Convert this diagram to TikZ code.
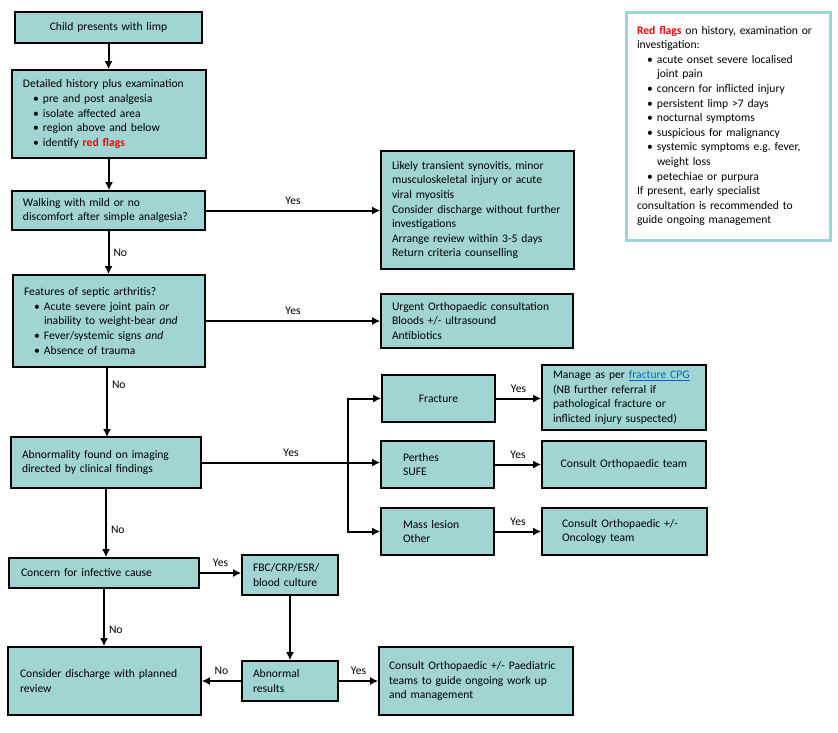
\documentclass[tikz,border=0pt]{standalone}
\usepackage{fontspec}
\setmainfont{Carlito}
\usetikzlibrary{arrows.meta}

\definecolor{boxfill}{HTML}{A0D5D4}
\definecolor{flagline}{HTML}{9DD4D4}
\definecolor{linkblue}{HTML}{0563C1}

\newcommand{\itm}[1]{\hspace*{10pt}\makebox[10pt][l]{\textbullet}#1}
\newcommand{\cnt}[1]{\hspace*{20pt}#1}
\newcommand{\redflag}[1]{\textbf{\textcolor{red}{#1}}}

\tikzset{
	proc/.style 2 args={draw=black, line width=1.6pt, fill=boxfill, align=left,
		text width=#1, minimum height=#2, inner xsep=11pt, inner ysep=2pt},
	arr/.style={line width=2pt, -{Latex[length=8pt, width=8pt]}},
	yes/.style={midway, above, inner sep=5pt},
	no/.style={right, inner sep=4pt}
}

\begin{document}
\begin{tikzpicture}[x=1pt, y=-1pt, font=\fontsize{11.6}{14.6}\selectfont]
		\useasboundingbox (0,0) rectangle (838,732);

		% left column
		\node[proc={165pt}{31pt}, align=center] (child) at (108.5, 27.5) {Child presents with limp};
		\node[proc={172pt}{88pt}] (hist) at (109, 114) {Detailed history plus examination\\
			\itm{pre and post analgesia}\\
			\itm{isolate affected area}\\
			\itm{region above and below}\\
			\itm{identify \redflag{red flags}}};
		\node[proc={171pt}{39pt}] (walk) at (108.5, 210.5) {Walking with mild or no\\discomfort after simple analgesia?};
		\node[proc={170pt}{92pt}] (septic) at (109, 321) {Features of septic arthritis?\\
			\itm{Acute severe joint pain \textit{or}}\\
			\cnt{inability to weight-bear \textit{and}}\\
			\itm{Fever/systemic signs \textit{and}}\\
			\itm{Absence of trauma}};
		\node[proc={168pt}{51pt}] (abn) at (106, 462.5) {Abnormality found on imaging\\directed by clinical findings};
		\node[proc={166pt}{30pt}, inner xsep=12pt] (infect) at (104, 573) {Concern for infective cause};
		\node[proc={169pt}{68pt}, inner xsep=12pt] (disch) at (104.5, 681) {Consider discharge with planned\\review};

		% middle column
		\node[proc={74pt}{40pt}] (fbc) at (290, 575) {FBC/CRP/ESR/\\blood culture};
		\node[proc={74pt}{40pt}] (abres) at (290, 681) {Abnormal\\results};

		% right column
		\node[proc={171pt}{118pt}] (likely) at (477.5, 210) {Likely transient synovitis, minor\\musculoskeletal injury or acute\\viral myositis\\Consider discharge without further\\investigations\\Arrange review within 3-5 days\\Return criteria counselling};
		\node[proc={170pt}{54pt}] (urgent) at (477, 321) {Urgent Orthopaedic consultation\\Bloods +/- ultrasound\\Antibiotics};
		\node[proc={91pt}{47pt}, align=center] (frac) at (438.5, 398.5) {Fracture};
		\node[proc={69pt}{47pt}, inner xsep=22pt] (perthes) at (437.5, 464.5) {Perthes\\SUFE};
		\node[proc={69pt}{47pt}, inner xsep=22pt] (mass) at (437.5, 531.5) {Mass lesion\\Other};
		\node[proc={174pt}{68pt}, inner xsep=10pt] (paed) at (476, 681) {Consult Orthopaedic +/- Paediatric\\teams to guide ongoing work up\\and management};

		\node[proc={142pt}{65pt}] (manage) at (624, 397.5) {Manage as per \textcolor{linkblue}{\underline{fracture CPG}}\\(NB further referral if\\pathological fracture or\\inflicted injury suspected)};
		\node[proc={142pt}{47pt}, align=center] (orth) at (624, 464.5) {Consult Orthopaedic team};
		\node[proc={125pt}{47pt}, inner xsep=20pt] (onco) at (624.5, 531.5) {Consult Orthopaedic +/-\\Oncology team};

		% red flags
		\node[draw=flagline, line width=3pt, fill=white, align=left, text width=182pt,
			minimum height=228pt, inner xsep=11pt] (flags) at (728, 126) {\redflag{Red flags} on history, examination or\\investigation:\\
			\itm{acute onset severe localised}\\
			\cnt{joint pain}\\
			\itm{concern for inflicted injury}\\
			\itm{persistent limp >7 days}\\
			\itm{nocturnal symptoms}\\
			\itm{suspicious for malignancy}\\
			\itm{systemic symptoms e.g.\ fever,}\\
			\cnt{weight loss}\\
			\itm{petechiae or purpura}\\
			If present, early specialist\\consultation is recommended to\\guide ongoing management};

		% connectors
		\draw[arr] (child.south) -- (child.south |- hist.north);
		\draw[arr] (hist.south) -- (hist.south |- walk.north);
		\draw[arr] (walk.east) -- (walk.east -| likely.west) node[yes] {Yes};
		\draw[arr] (walk.south) -- (walk.south |- septic.north) node[midway, no] {No};
		\draw[arr] (septic.east) -- (septic.east -| urgent.west) node[yes] {Yes};
		\draw[arr] (107, 367) -- (107, 437) node[pos=0.25, no] {No};
		\draw[arr] (abn.east) -- (abn.east -| perthes.west) node[yes] {Yes};
		\coordinate (split) at (348, 462.5);
		\draw[arr] (split) -- (split |- frac.west) -- (frac.west);
		\draw[arr] (split) -- (split |- mass.west) -- (mass.west);
		\draw[arr] (frac.east) -- (frac.east -| manage.west) node[yes] {Yes};
		\draw[arr] (perthes.east) -- (perthes.east -| orth.west) node[yes] {Yes};
		\draw[arr] (mass.east) -- (mass.east -| onco.west) node[yes] {Yes};
		\draw[arr] (abn.south) -- (abn.south |- infect.north) node[pos=0.6, no] {No};
		\draw[arr] (infect.east) -- (infect.east -| fbc.west) node[yes] {Yes};
		\draw[arr] (infect.south) -- (infect.south |- disch.north) node[pos=0.72, no] {No};
		\draw[arr] (fbc.south) -- (abres.north);
		\draw[arr] (abres.west) -- (abres.west -| disch.east) node[yes] {No};
		\draw[arr] (abres.east) -- (abres.east -| paed.west) node[yes] {Yes};
	\end{tikzpicture}
\end{document}
